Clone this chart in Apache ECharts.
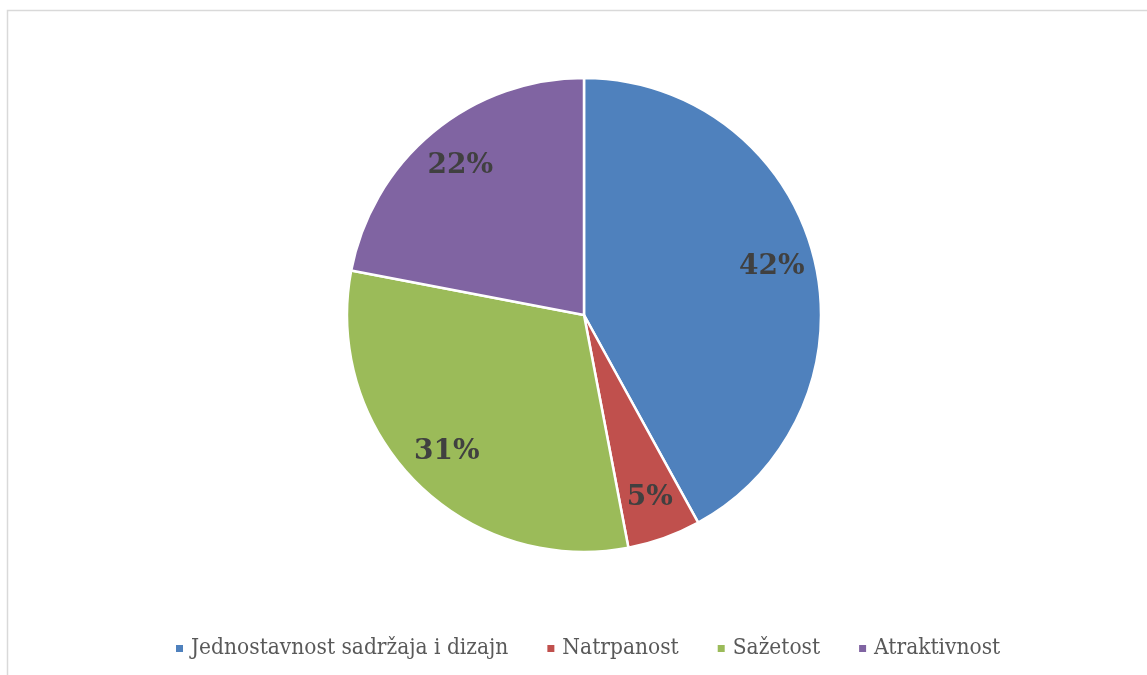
<!DOCTYPE html>
<html>
<head>
<meta charset="utf-8">
<script src="https://cdn.jsdelivr.net/npm/echarts@6/dist/echarts.min.js"></script>
<style>html,body{margin:0;padding:0;background:#fff;}#c{width:1147px;height:675px;}</style>
</head>
<body>
<div id="c"></div>
<script>
const categories = ['Jednostavnost sadržaja i dizajn', 'Natrpanost', 'Sažetost', 'Atraktivnost'];
const values = [42, 5, 31, 22];
const colors = ['#4F81BD', '#C0504D', '#9BBB59', '#8064A2'];

const chart = echarts.init(document.getElementById('c'), null, {renderer: 'canvas'});
const data = categories.map((n, i) => ({name: n, value: values[i], itemStyle: {color: colors[i]}}));
chart.setOption({
  animation: false,
  graphic: [{
    type: 'rect', silent: true, z: -10,
    shape: {x: 7.5, y: 10.5, width: 1200, height: 700},
    style: {fill: '#fff', stroke: '#d9d9d9', lineWidth: 1.5}
  }],
  legend: {
    data: categories,
    left: 169, top: 632,
    itemWidth: 9, itemHeight: 9, itemGap: 37,
    icon: 'rect',
    textStyle: {fontFamily: '"DejaVu Serif Condensed", "Liberation Serif", serif', fontSize: 22.5, color: '#595959', padding: [0, 0, 0, 2]}
  },
  series: [{
    type: 'pie',
    center: [584, 315], radius: [0, 237],
    startAngle: 90, clockwise: true,
    data: data,
    itemStyle: {borderColor: '#fff', borderWidth: 2.5},
    label: {show: false}, labelLine: {show: false},
    emphasis: {disabled: true}
  }, {
    type: 'pie', silent: true,
    center: [584, 315], radius: [145, 237],
    startAngle: 90, clockwise: true,
    data: categories.map((n, i) => ({name: n, value: values[i]})),
    itemStyle: {color: 'rgba(0,0,0,0)'},
    label: {
      show: true, position: 'inside',
      formatter: p => p.value + '%',
      fontFamily: 'DejaVu Serif', fontWeight: 'bold', fontSize: 28, color: '#404040'
    },
    labelLine: {show: false},
    emphasis: {disabled: true}
  }]
});
</script>
</body>
</html>
